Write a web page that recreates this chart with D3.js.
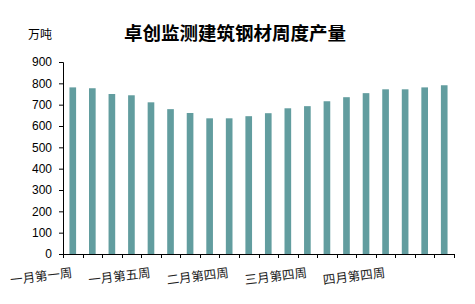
<!DOCTYPE html>
<html>
<head>
<meta charset="utf-8">
<script src="https://cdn.jsdelivr.net/npm/d3@7"></script>
<style>
  body { margin: 0; background: #fff; }
  svg { display: block; }
  .axis-label { font-family: "Liberation Sans", Arial, sans-serif; font-size: 12px; fill: #000; }
  .cat-label { font-family: "Noto Sans CJK SC", sans-serif; font-size: 12.5px; fill: #222; }
</style>
</head>
<body>
<svg id="chart"></svg>
<script>
// 数据
const weeks = ["一月第一周", "一月第二周", "一月第三周", "一月第四周", "一月第五周",
    "二月第一周", "二月第二周", "二月第三周", "二月第四周",
    "三月第一周", "三月第二周", "三月第三周", "三月第四周",
    "四月第一周", "四月第二周", "四月第三周", "四月第四周",
    "五月第一周", "五月第二周", "五月第三周"];
const output = [781, 777, 750, 744, 711, 679, 661, 636, 636, 646,
    660, 683, 693, 716, 735, 754, 772, 772, 781, 791];
const yTicks = [0, 100, 200, 300, 400, 500, 600, 700, 800, 900];
const shownLabels = ["一月第一周", "一月第五周", "二月第四周", "三月第四周", "四月第四周"];

// 尺寸
const width = 475;
const height = 304;
const margin = { top: 62, right: 21, bottom: 50, left: 63 };

const svg = d3.select("#chart")
    .attr("width", width)
    .attr("height", height);

const x = d3.scaleBand()
    .domain(weeks)
    .range([margin.left, width - margin.right])
    .paddingInner(0.66)
    .paddingOuter(0.33);

const y = d3.scaleLinear()
    .domain([0, 900])
    .range([height - margin.bottom, margin.top]);

// 标题
svg.append("text")
    .attr("x", 235)
    .attr("y", 40)
    .attr("text-anchor", "middle")
    .style("font-family", "\"Noto Sans CJK SC\", sans-serif")
    .style("font-size", "18.5px")
    .style("font-weight", "bold")
    .text("卓创监测建筑钢材周度产量");

// 单位
svg.append("text")
    .attr("x", 28)
    .attr("y", 39)
    .style("font-family", "\"Noto Sans CJK SC\", sans-serif")
    .style("font-size", "12px")
    .text("万吨");

// 柱
svg.selectAll(".bar")
    .data(weeks)
    .enter()
    .append("rect")
    .attr("class", "bar")
    .attr("x", (d) => x(d))
    .attr("y", (d, i) => y(output[i]))
    .attr("width", x.bandwidth())
    .attr("height", (d, i) => y(0) - y(output[i]))
    .attr("fill", "#629d9f");

// Y 轴
const yAxis = svg.append("g")
    .attr("transform", `translate(${margin.left},0)`)
    .call(d3.axisLeft(y).tickValues(yTicks).tickSize(4).tickPadding(7));
yAxis.select(".domain").attr("stroke", "#000");
yAxis.selectAll("text").attr("class", "axis-label");

// X 轴 (刻度在类别边界)
const step = x.step();
const x0 = margin.left;
const xAxis = svg.append("g");
xAxis.append("line")
    .attr("x1", x0)
    .attr("x2", width - margin.right)
    .attr("y1", y(0) + 0.5)
    .attr("y2", y(0) + 0.5)
    .attr("stroke", "#000");
xAxis.selectAll(".xtick")
    .data(d3.range(weeks.length + 1))
    .enter()
    .append("line")
    .attr("x1", (i) => Math.round(x0 + i * step) + 0.5)
    .attr("x2", (i) => Math.round(x0 + i * step) + 0.5)
    .attr("y1", y(0))
    .attr("y2", y(0) + 4)
    .attr("stroke", "#000");

// 类别标签
svg.selectAll(".cat-label")
    .data(shownLabels)
    .enter()
    .append("text")
    .attr("class", "cat-label")
    .attr("text-anchor", "end")
    .attr("transform", (d) => `translate(${x(d) + x.bandwidth() / 2},277) rotate(-7)`)
    .text((d) => d);
</script>
</body>
</html>
